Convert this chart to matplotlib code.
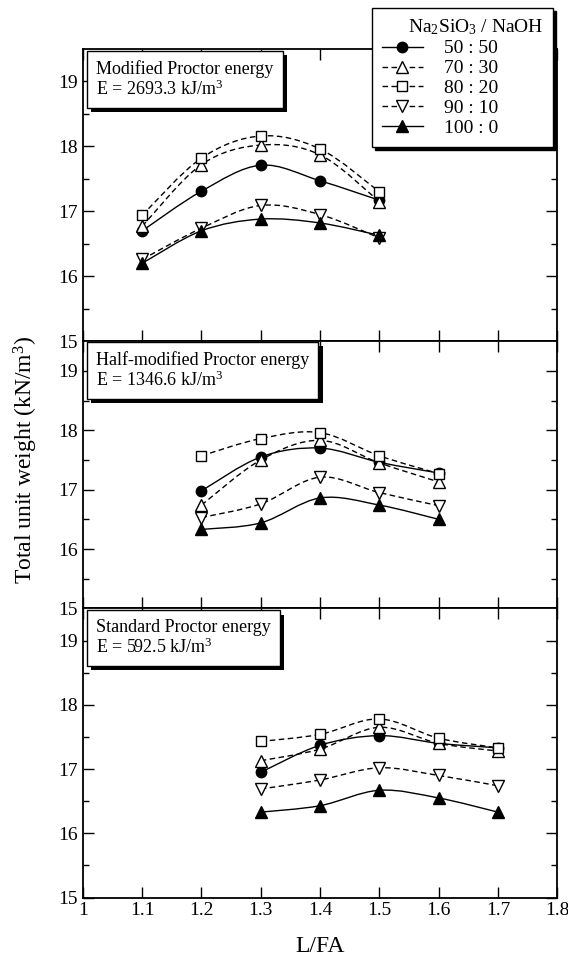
import numpy as np
import matplotlib
matplotlib.use("Agg")
import matplotlib.pyplot as plt
from matplotlib.path import Path
from matplotlib.patches import PathPatch
from matplotlib.lines import Line2D
from matplotlib import patheffects

plt.rcParams['font.family'] = ['Liberation Serif', 'DejaVu Serif']
plt.rcParams['mathtext.fontset'] = 'custom'
plt.rcParams['mathtext.rm'] = 'Liberation Serif'
plt.rcParams['mathtext.it'] = 'Liberation Serif:italic'

# series labels
ratios = ['50 : 50', '70 : 30', '80 : 20', '90 : 10', '100 : 0']

# panel 1: modified Proctor
x_mod = [1.1, 1.2, 1.3, 1.4, 1.5]
mod_50 = [16.70, 17.31, 17.71, 17.47, 17.17]
mod_70 = [16.77, 17.72, 18.02, 17.87, 17.15]
mod_80 = [16.94, 17.82, 18.16, 17.96, 17.30]
mod_90 = [16.26, 16.74, 17.09, 16.95, 16.59]
mod_100 = [16.20, 16.70, 16.88, 16.82, 16.63]

# panel 2: half-modified Proctor
x_half = [1.2, 1.3, 1.4, 1.5, 1.6]
half_50 = [16.98, 17.55, 17.70, 17.46, 17.28]
half_70 = [16.74, 17.50, 17.83, 17.45, 17.13]
half_80 = [17.57, 17.86, 17.96, 17.57, 17.27]
half_90 = [16.53, 16.76, 17.21, 16.95, 16.73]
half_100 = [16.33, 16.44, 16.86, 16.74, 16.50]

# panel 3: standard Proctor
x_std = [1.3, 1.4, 1.5, 1.6, 1.7]
std_50 = [16.95, 17.37, 17.52, 17.40, 17.33]
std_70 = [17.13, 17.31, 17.65, 17.40, 17.28]
std_80 = [17.43, 17.54, 17.78, 17.48, 17.33]
std_90 = [16.69, 16.83, 17.02, 16.90, 16.74]
std_100 = [16.33, 16.43, 16.67, 16.55, 16.33]

panel_titles = ['Modified Proctor energy\nE = 2693.3 kJ/m$^3$',
                'Half-modified Proctor energy\nE = 1346.6 kJ/m$^3$',
                'Standard Proctor energy\nE = 592.5 kJ/m$^3$']

panels = [(x_mod, [mod_50, mod_70, mod_80, mod_90, mod_100]),
          (x_half, [half_50, half_70, half_80, half_90, half_100]),
          (x_std, [std_50, std_70, std_80, std_90, std_100])]

styles = [dict(marker='o', mfc='black', ls='-', ms=7.5),
          dict(marker='^', mfc='white', ls=(0, (4, 2.5)), ms=8.5),
          dict(marker='s', mfc='white', ls=(0, (4, 2.5)), ms=7),
          dict(marker='v', mfc='white', ls=(0, (4, 2.5)), ms=8.5),
          dict(marker='^', mfc='black', ls='-', ms=8.5)]


def smooth_path(x, y):
    pts = np.column_stack([x, y])
    verts = [pts[0]]
    codes = [Path.MOVETO]
    n = len(pts)
    for i in range(n - 1):
        p0 = pts[i - 1] if i > 0 else pts[i]
        p1 = pts[i]
        p2 = pts[i + 1]
        p3 = pts[i + 2] if i + 2 < n else pts[i + 1]
        verts += [p1 + (p2 - p0) / 6, p2 - (p3 - p1) / 6, p2]
        codes += [Path.CURVE4] * 3
    return Path(verts, codes)


fig = plt.figure(figsize=(5.68, 9.6), dpi=100)
gs = fig.add_gridspec(3, 1, height_ratios=[292, 267, 289], hspace=0,
                      left=0.146, right=0.981, top=0.949, bottom=0.065)

for k, (xs, series) in enumerate(panels):
    ax = fig.add_subplot(gs[k])
    for ys, st in zip(series, styles):
        ax.add_patch(PathPatch(smooth_path(xs, ys), fill=False, ec='black',
                               lw=1.0, ls=st['ls'], zorder=2))
        ax.plot(xs, ys, ls='none', marker=st['marker'], mfc=st['mfc'],
                mec='black', mew=1.0, ms=st['ms'], zorder=3)
    ax.set_xlim(1, 1.8)
    ax.set_ylim(15, 19.5)
    ax.set_xticks(np.arange(1, 1.81, 0.1))
    ax.set_yticks([15, 16, 17, 18, 19])
    ax.set_yticks(np.arange(15.5, 19.5, 1.0), minor=True)
    ax.tick_params(which='both', direction='in', top=True, right=True,
                   labelsize=14, width=1.0)
    ax.tick_params(which='major', length=8)
    ax.tick_params(which='minor', length=4)
    for sp in ax.spines.values():
        sp.set_linewidth(1.3)
    if k < 2:
        ax.tick_params(labelbottom=False)
    else:
        ax.set_xticklabels(['1', '1.1', '1.2', '1.3', '1.4', '1.5', '1.6', '1.7', '1.8'])
        ax.set_xlabel('L/FA', fontsize=17, labelpad=12)

    # boxed label with drop shadow
    t = ax.text(0.028, 0.962, panel_titles[k], transform=ax.transAxes,
                fontsize=13, va='top', ha='left', linespacing=1.08,
                bbox=dict(boxstyle='square,pad=0.5', fc='white', ec='black', lw=1.0),
                zorder=5)
    t.get_bbox_patch().set_path_effects([
        patheffects.SimplePatchShadow(offset=(3, -3), shadow_rgbFace='black', alpha=1),
        patheffects.Normal()])

handles = [Line2D([], [], color='black', lw=1.0, ls=st['ls'], marker=st['marker'],
                  mfc=st['mfc'], mec='black', ms=st['ms'])
           for st in styles]
leg = fig.legend(handles, ratios, title='Na$_2$SiO$_3$ / NaOH',
                 loc='upper left',
                 bbox_to_anchor=(372 / 568, 1 - 146 / 960, 181 / 568, 138 / 960),
                 mode='expand', alignment='right',
                 fontsize=14, title_fontsize=14, frameon=True, fancybox=False,
                 edgecolor='black', framealpha=1, handlelength=2.1,
                 labelspacing=0.12, borderpad=0.5, handletextpad=1.1,
                 borderaxespad=0,
                 shadow={'color': 'black', 'alpha': 1})
leg.get_frame().set_linewidth(1.0)

fig.text(0.046, 0.521, 'Total unit weight (kN/m$^3$)', rotation=90,
         ha='center', va='center', fontsize=17)

fig.savefig('out.png', dpi=100)
